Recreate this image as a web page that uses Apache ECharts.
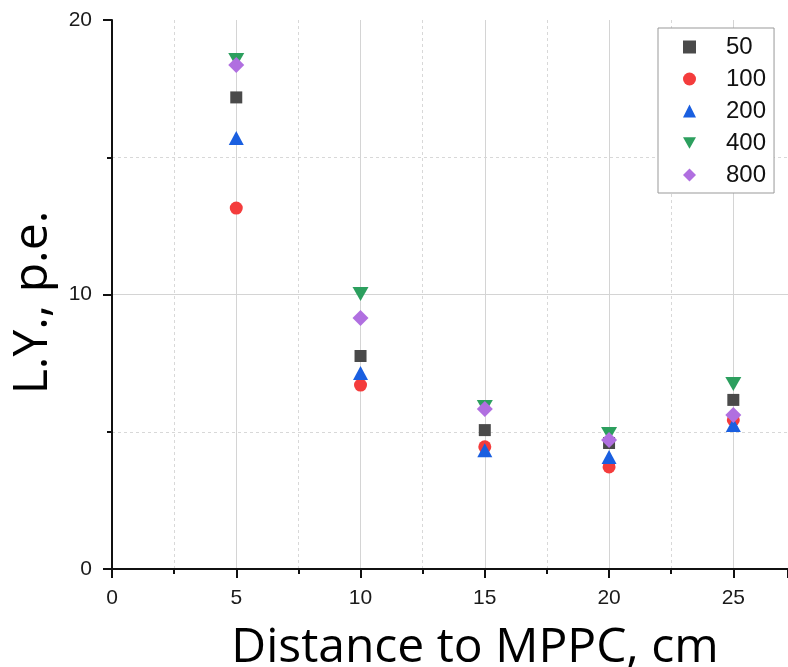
<!DOCTYPE html>
<html>
<head>
<meta charset="utf-8">
<script src="https://cdn.jsdelivr.net/npm/echarts@6/dist/echarts.min.js"></script>
<style>html,body{margin:0;padding:0;background:#fff}#c{width:788px;height:667px}</style>
</head>
<body>
<div id="c"></div>
<script>
var distances = [5, 10, 15, 20, 25];
var ly50  = [17.18, 7.76, 5.06, 4.59, 6.16];
var ly100 = [13.15, 6.70, 4.45, 3.72, 5.43];
var ly200 = [15.70, 7.14, 4.33, 4.08, 5.25];
var ly400 = [18.54, 10.02, 5.90, 4.92, 6.74];
var ly800 = [18.36, 9.14, 5.83, 4.70, 5.61];
var seriesNames = ['50', '100', '200', '400', '800'];
var xTitle = 'Distance to MPPC, cm';
var yTitle = 'L.Y., p.e.';

function pairs(ys) { return distances.map(function (x, i) { return [x, ys[i]]; }); }

var tickFont = { fontFamily: 'Liberation Sans', fontSize: 21, color: '#1a1a1a' };
var XMAX = 27.2;

var chart = echarts.init(document.getElementById('c'), null, { renderer: 'canvas' });
chart.setOption({
  animation: false,
  backgroundColor: '#fff',
  grid: { left: 112, top: 20, right: 0, bottom: 98, containLabel: false, outerBoundsMode: 'none' },
  legend: {
    orient: 'vertical', left: 658, top: 28,
    padding: [7, 8, 6, 25], itemGap: 8,
    itemWidth: 13, itemHeight: 13,
    borderColor: '#999', borderWidth: 1, backgroundColor: '#fff',
    textStyle: { fontFamily: 'Liberation Sans', fontSize: 24, color: '#111', lineHeight: 24, padding: [0, 0, 0, 25] },
    data: seriesNames
  },
  xAxis: [{
    type: 'value', min: 0, max: XMAX, interval: 5,
    name: xTitle, nameLocation: 'middle', nameGap: 55,
    nameTextStyle: { fontFamily: 'Open Sans', fontSize: 48, color: '#000', padding: [0, 0, 0, 50] },
    axisLine: { show: true, onZero: false, lineStyle: { color: '#111', width: 2 } },
    axisTick: { show: true, inside: false, length: 9, lineStyle: { color: '#111', width: 2 } },
    axisLabel: { margin: 19, formatter: function (v) { return v % 5 === 0 ? String(v) : ''; }, fontFamily: tickFont.fontFamily, fontSize: tickFont.fontSize, color: tickFont.color },
    splitLine: { show: true, showMinLine: false, lineStyle: { color: '#d4d4d4', width: 1 } }
  }, {
    type: 'value', min: 0, max: XMAX, interval: 2.5, position: 'bottom',
    axisLine: { show: false },
    axisTick: { show: true, length: 5, lineStyle: { color: '#111', width: 2 } },
    axisLabel: { show: false },
    splitLine: { show: true, showMinLine: true, lineStyle: { color: ['rgba(0,0,0,0)', '#d8d8d8'], width: 1, type: [3, 3] } }
  }],
  yAxis: [{
    type: 'value', min: 0, max: 20, interval: 10,
    name: yTitle, nameLocation: 'middle', nameGap: 54, nameRotate: 90,
    nameTextStyle: { fontFamily: 'Open Sans', fontSize: 48, color: '#000', padding: [0, 16, 0, 0] },
    axisLine: { show: true, onZero: false, lineStyle: { color: '#111', width: 2 } },
    axisTick: { show: true, length: 9, lineStyle: { color: '#111', width: 2 } },
    axisLabel: { margin: 20, fontFamily: tickFont.fontFamily, fontSize: tickFont.fontSize, color: tickFont.color },
    splitLine: { show: true, showMinLine: false, showMaxLine: false, lineStyle: { color: '#d4d4d4', width: 1 } }
  }, {
    type: 'value', min: 0, max: 20, interval: 5, position: 'left',
    axisLine: { show: false },
    axisTick: { show: true, length: 5, lineStyle: { color: '#111', width: 2 } },
    axisLabel: { show: false },
    splitLine: { show: true, showMinLine: true, showMaxLine: false, lineStyle: { color: ['rgba(0,0,0,0)', '#d8d8d8'], width: 1, type: [3, 3] } }
  }],
  series: [
    { name: '50', type: 'scatter', data: pairs(ly50), symbol: 'rect', symbolSize: 12, itemStyle: { color: '#4a4a4a', opacity: 1 } },
    { name: '100', type: 'scatter', data: pairs(ly100), symbol: 'circle', symbolSize: 13, itemStyle: { color: '#f43c3c', opacity: 1 } },
    { name: '200', type: 'scatter', data: pairs(ly200), symbol: 'triangle', symbolSize: [15, 14], itemStyle: { color: '#1a5fe0', opacity: 1 } },
    { name: '400', type: 'scatter', data: pairs(ly400), symbol: 'path://M-1,-0.9L1,-0.9L0,0.9Z', symbolSize: [16, 14], itemStyle: { color: '#2c9f5e', opacity: 1 } },
    { name: '800', type: 'scatter', data: pairs(ly800), symbol: 'path://M0,-1L1,0L0,1L-1,0Z', symbolSize: 16, itemStyle: { color: '#b06fe0', opacity: 1 } }
  ]
});
</script>
</body>
</html>
